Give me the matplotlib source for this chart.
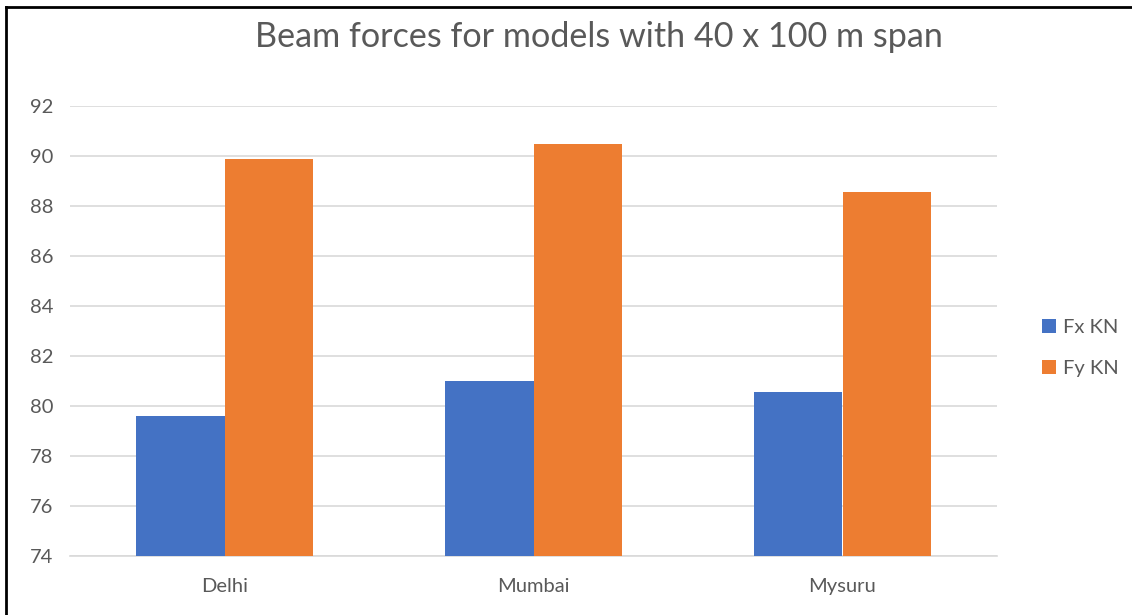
import matplotlib.pyplot as plt
import numpy as np
from matplotlib.lines import Line2D

cities = ['Delhi', 'Mumbai', 'Mysuru']
fx_kn = [79.6, 81.0, 80.57]
fy_kn = [89.87, 90.47, 88.56]
series_names = ['Fx KN', 'Fy KN']
yticks = [74, 76, 78, 80, 82, 84, 86, 88, 90, 92]

plt.rcParams['font.family'] = ['Lato', 'DejaVu Sans']

fig = plt.figure(figsize=(11.32, 6.15), dpi=100)
ax = fig.add_axes([70 / 1132, 59 / 615, 927 / 1132, 450 / 615])

x = np.arange(len(cities))
w = 0.285
ax.bar(x - w / 2, [v - 74 for v in fx_kn], w, bottom=74, color='#4472C4', label=series_names[0], zorder=3)
ax.bar(x + w / 2, [v - 74 for v in fy_kn], w, bottom=74, color='#ED7D31', label=series_names[1], zorder=3)

ax.set_xlim(-0.5, 2.5)
ax.set_ylim(74, 92)
ax.set_yticks(yticks)
ax.set_xticks(x)
ax.set_xticklabels(cities)
ax.grid(axis='y', color='#d9d9d9', linewidth=1.2, zorder=0)
for s in ['top', 'right', 'left']:
    ax.spines[s].set_visible(False)
ax.spines['bottom'].set_color('#d9d9d9')
ax.spines['bottom'].set_linewidth(1.2)
ax.tick_params(length=0, labelsize=14.5, colors='#595959', pad=12)
ax.tick_params(axis='x', pad=16)

# Titre
fig.text(0.529, 1 - 37 / 615, 'Beam forces for models with 40 x 100 m span', ha='center', va='center',
         fontsize=24.6, color='#595959')

fig.legend(loc='center left', bbox_to_anchor=(1024 / 1132, 1 - 348 / 615), frameon=False,
           fontsize=14.5, labelcolor='#595959', handlelength=0.7, handleheight=0.7,
           handletextpad=0.35, labelspacing=1.2)

# chart border (top and left visible)
fig.add_artist(Line2D([6 / 1132, 1], [1 - 7 / 615, 1 - 7 / 615], color='black', linewidth=2))
fig.add_artist(Line2D([6 / 1132, 6 / 1132], [0, 1 - 7 / 615], color='black', linewidth=2))

fig.savefig('out.png', dpi=100)
